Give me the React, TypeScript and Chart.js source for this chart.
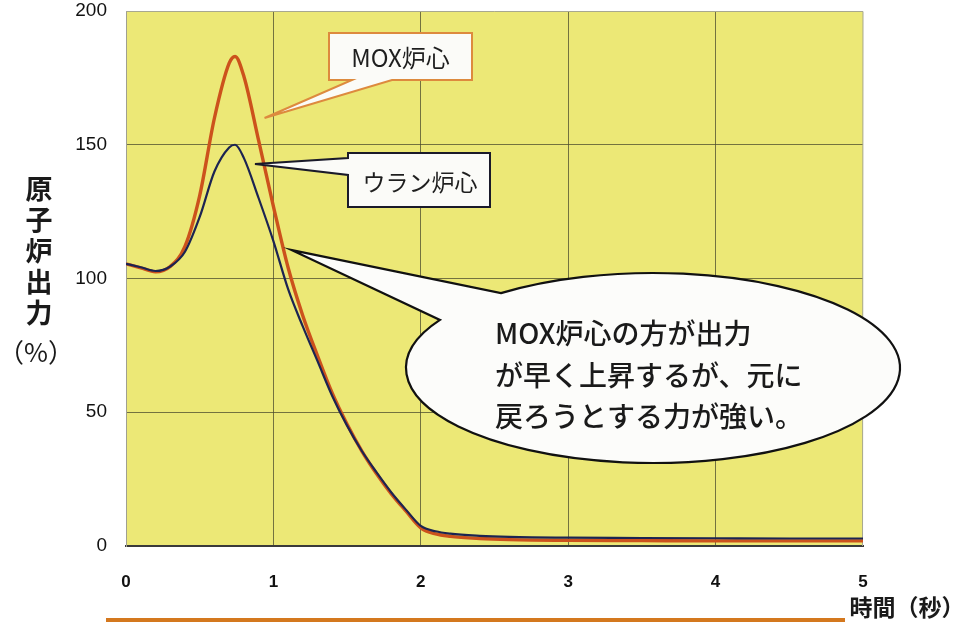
import React, { useEffect, useRef } from "react";
import { Chart, registerables } from "chart.js";

Chart.register(...registerables);

// ---- data ----
const timeSec = [0, 0.1, 0.2, 0.3, 0.4, 0.5, 0.6, 0.7, 0.74, 0.8, 0.9, 1.0, 1.1, 1.2, 1.3, 1.4, 1.5, 1.6, 1.7, 1.8, 1.9, 2.0, 2.1, 2.2, 2.4, 2.6, 3.0, 3.5, 4.0, 4.5, 5.0];
const uraniumCore = [105.5, 104.2, 102.8, 104.5, 110, 123, 140, 149, 150, 145, 130, 114, 96, 82, 69, 56, 45, 35.5, 27.5, 20, 13.5, 7.5, 5.5, 4.6, 3.8, 3.4, 3.1, 3.0, 2.9, 2.8, 2.8];
const moxCore = [105.5, 104, 102.5, 104.5, 112, 131, 160, 180.5, 183, 175.5, 151.5, 127, 104, 86, 71, 57, 45.5, 35.5, 27, 19.5, 13, 6.8, 4.5, 3.6, 2.8, 2.4, 2.1, 2.0, 1.9, 1.9, 1.9];
const xTicks = [0, 1, 2, 3, 4, 5];
const yTicks = [0, 50, 100, 150, 200];
const seriesNames = ["MOX炉心", "ウラン炉心"];
const yTitleChars = ["原", "子", "炉", "出", "力"];
const yTitleUnit = "（%）";
const xTitle = "時間（秒）";
const noteLines = ["MOX炉心の方が出力", "が早く上昇するが、元に", "戻ろうとする力が強い。"];

const CJK = '"Noto Sans CJK JP", "Noto Sans", sans-serif';
const LAT = '"Liberation Sans", Arial, sans-serif';

const decorPlugin = {
  id: "decor",
  beforeDraw(chart: any) {
    const { ctx, chartArea: a } = chart;
    ctx.save();
    ctx.fillStyle = "#ffffff";
    ctx.fillRect(0, 0, chart.width, chart.height);
    ctx.fillStyle = "#ece876";
    ctx.fillRect(a.left, a.top, a.right - a.left, a.bottom - a.top);
    ctx.restore();
  },
  beforeDatasetsDraw(chart: any) {
    const { ctx, chartArea: a } = chart;
    ctx.save();
    ctx.strokeStyle = "#a8a890";
    ctx.lineWidth = 1;
    ctx.beginPath();
    ctx.moveTo(a.left, a.top + 0.5);
    ctx.lineTo(a.right, a.top + 0.5);
    ctx.lineTo(a.right - 0.5, a.bottom);
    ctx.stroke();
    ctx.restore();
  },
  afterDatasetsDraw(chart: any) {
    const { ctx } = chart;
    const sx = chart.scales.x;
    const sy = chart.scales.y;
    const px = (t: number) => sx.getPixelForValue(t);
    const py = (v: number) => sy.getPixelForValue(v);
    ctx.save();
    ctx.lineJoin = "miter";

    // MOX label box
    {
      const x0 = 329, y0 = 33, x1 = 472, y1 = 80;
      const tx = px(0.94), ty = py(160);
      ctx.beginPath();
      ctx.moveTo(x0, y0);
      ctx.lineTo(x1, y0);
      ctx.lineTo(x1, y1);
      ctx.lineTo(392, y1);
      ctx.lineTo(tx, ty);
      ctx.lineTo(352, y1);
      ctx.lineTo(x0, y1);
      ctx.closePath();
      ctx.fillStyle = "#fbfbf8";
      ctx.fill();
      ctx.strokeStyle = "#dd8a3e";
      ctx.lineWidth = 2;
      ctx.stroke();
      ctx.fillStyle = "#1e1e1e";
      ctx.font = `24px ${CJK}`;
      ctx.textAlign = "center";
      ctx.textBaseline = "middle";
      ctx.fillText(seriesNames[0], (x0 + x1) / 2, 58);
    }

    // Uranium label box
    {
      const x0 = 348, y0 = 153, x1 = 490, y1 = 207;
      const tx = px(0.875), ty = py(142.8);
      ctx.beginPath();
      ctx.moveTo(x0, y0);
      ctx.lineTo(x1, y0);
      ctx.lineTo(x1, y1);
      ctx.lineTo(x0, y1);
      ctx.lineTo(x0, 175);
      ctx.lineTo(tx, ty);
      ctx.lineTo(x0, 158);
      ctx.closePath();
      ctx.fillStyle = "#fbfbf8";
      ctx.fill();
      ctx.strokeStyle = "#1a1a2a";
      ctx.lineWidth = 2;
      ctx.stroke();
      ctx.fillStyle = "#1e1e1e";
      ctx.font = `23px ${CJK}`;
      ctx.textAlign = "center";
      ctx.textBaseline = "middle";
      ctx.fillText(seriesNames[1], (x0 + x1) / 2 + 1, 182);
    }

    // Ellipse callout
    {
      const cx = 653, cy = 368, rx = 247, ry = 95;
      const a1 = (-128 * Math.PI) / 180;
      const a2 = (210.4 * Math.PI) / 180;
      const tx = px(1.126), ty = py(110.6);
      ctx.beginPath();
      ctx.moveTo(tx, ty);
      ctx.lineTo(cx + rx * Math.cos(a1), cy + ry * Math.sin(a1));
      ctx.ellipse(cx, cy, rx, ry, 0, a1, a2, false);
      ctx.closePath();
      ctx.fillStyle = "#fcfcfa";
      ctx.fill();
      ctx.strokeStyle = "#111111";
      ctx.lineWidth = 2.2;
      ctx.stroke();
      ctx.fillStyle = "#1a1a1a";
      ctx.font = `500 28px ${CJK}`;
      ctx.textAlign = "left";
      ctx.textBaseline = "middle";
      const ys = [333, 375, 416];
      noteLines.forEach((ln, i) => ctx.fillText(ln, 495, ys[i]));
    }

    // Y title (vertical)
    ctx.fillStyle = "#1a1a1a";
    ctx.textAlign = "center";
    ctx.textBaseline = "middle";
    ctx.font = `bold 27px ${CJK}`;
    yTitleChars.forEach((c, i) => ctx.fillText(c, 39, 189 + i * 31));
    ctx.font = `26px ${CJK}`;
    ctx.fillText(yTitleUnit, 36, 352);

    // X title
    ctx.font = `bold 23px ${CJK}`;
    ctx.textAlign = "center";
    ctx.fillText(xTitle, 907, 607);

    // bottom box edge
    ctx.fillStyle = "#fdf7dc";
    ctx.fillRect(108, 619, 735, 10);
    ctx.strokeStyle = "#d4781e";
    ctx.lineWidth = 4;
    ctx.strokeRect(108, 620, 735, 20);
    ctx.restore();
  },
};

export default function App() {
  const ref = useRef<HTMLCanvasElement>(null);
  useEffect(() => {
    if (!ref.current) return;
    const chart = new Chart(ref.current, {
      type: "line",
      data: {
        datasets: [
          {
            label: seriesNames[1],
            data: timeSec.map((t, i) => ({ x: t, y: uraniumCore[i] })),
            borderColor: "#1c2452",
            borderWidth: 2.2,
            pointRadius: 0,
            cubicInterpolationMode: "monotone",
            order: 1,
          },
          {
            label: seriesNames[0],
            data: timeSec.map((t, i) => ({ x: t, y: moxCore[i] })),
            borderColor: "#cc521c",
            borderWidth: 3.4,
            pointRadius: 0,
            cubicInterpolationMode: "monotone",
            order: 2,
          },
        ],
      },
      options: {
        animation: false,
        responsive: false,
        devicePixelRatio: 1,
        layout: { padding: { left: 0, top: 11, right: 105, bottom: 0 } },
        plugins: { legend: { display: false }, tooltip: { enabled: false } },
        scales: {
          x: {
            type: "linear",
            min: 0,
            max: 5,
            afterFit: (s: any) => {
              s.height = 76;
              s.paddingLeft = 0;
              s.paddingRight = 0;
            },
            afterBuildTicks: (s: any) => {
              s.ticks = xTicks.map((v) => ({ value: v }));
            },
            ticks: {
              padding: 26,
              color: "#111",
              font: { family: LAT, size: 17, weight: "bold" },
            },
            grid: {
              drawTicks: false,
              lineWidth: 1,
              color: (c: any) =>
                c.tick && (c.tick.value === 0 || c.tick.value === 5) ? "rgba(0,0,0,0)" : "rgba(75,75,45,0.75)",
            },
            border: { display: true, color: "#3a3a3a", width: 2 },
          },
          y: {
            min: 0,
            max: 200,
            afterFit: (s: any) => {
              s.width = 126;
              s.paddingTop = 0;
              s.paddingBottom = 0;
            },
            afterBuildTicks: (s: any) => {
              s.ticks = yTicks.map((v) => ({ value: v }));
            },
            ticks: {
              padding: 19,
              color: "#111",
              font: { family: LAT, size: 19, lineHeight: 1 },
            },
            grid: {
              drawTicks: false,
              lineWidth: 1,
              color: (c: any) =>
                c.tick && (c.tick.value === 0 || c.tick.value === 200) ? "rgba(0,0,0,0)" : "rgba(75,75,45,0.75)",
            },
            border: { display: true, color: "#a0a090", width: 1 },
          },
        },
      },
      plugins: [decorPlugin],
    } as any);
    return () => chart.destroy();
  }, []);
  return (
    <div style={{ position: "fixed", left: 0, top: 0, width: 968, height: 622 }}>
      <canvas ref={ref} width={968} height={622} style={{ width: 968, height: 622, display: "block" }} />
    </div>
  );
}
